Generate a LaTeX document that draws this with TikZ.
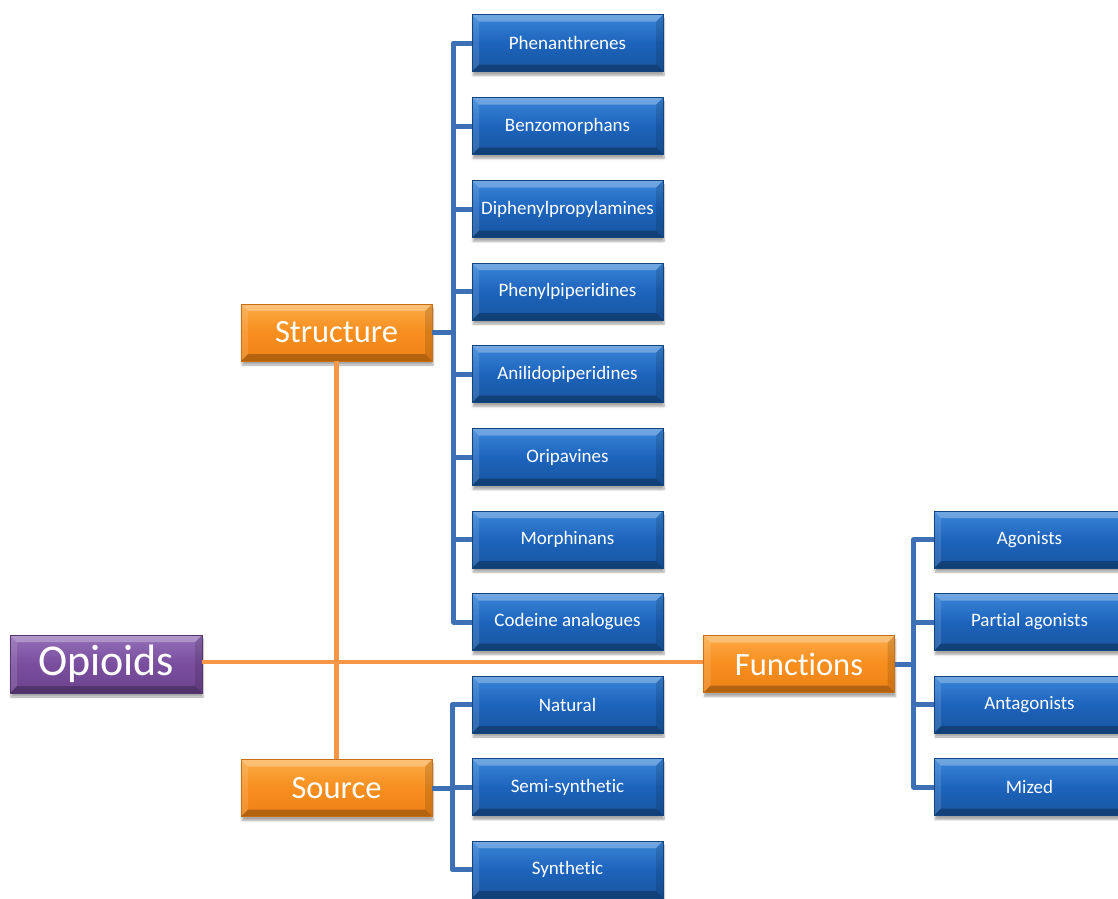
\documentclass[tikz,border=0pt]{standalone}
\usepackage{fontspec}
\setmainfont[Ligatures=NoCommon]{Carlito}
\usetikzlibrary{shadows.blur}
\definecolor{bluemid}{HTML}{1D64BD}
\definecolor{bluetop}{HTML}{3A86D8}
\definecolor{bluebot}{HTML}{18559E}
\definecolor{orgmid}{HTML}{F78E1E}
\definecolor{orgtop}{HTML}{FBAA45}
\definecolor{orgbot}{HTML}{EE8215}
\definecolor{purmid}{HTML}{7A4E9E}
\definecolor{purtop}{HTML}{9470B8}
\definecolor{purbot}{HTML}{6C438E}
\definecolor{orgline}{HTML}{F79646}
\definecolor{blueline}{HTML}{3D70B5}
\tikzset{
  bevel/.style={path picture={
    \fill[white,opacity=0.28] (path picture bounding box.north west) -- (path picture bounding box.north east) -- ([xshift=-7pt,yshift=-7pt]path picture bounding box.north east) -- ([xshift=7pt,yshift=-7pt]path picture bounding box.north west) -- cycle;
    \fill[white,opacity=0.12] (path picture bounding box.north west) -- ([xshift=7pt,yshift=-7pt]path picture bounding box.north west) -- ([xshift=7pt,yshift=7pt]path picture bounding box.south west) -- (path picture bounding box.south west) -- cycle;
    \fill[black,opacity=0.12] (path picture bounding box.north east) -- ([xshift=-7pt,yshift=-7pt]path picture bounding box.north east) -- ([xshift=-7pt,yshift=7pt]path picture bounding box.south east) -- (path picture bounding box.south east) -- cycle;
    \fill[black,opacity=0.25] (path picture bounding box.south west) -- (path picture bounding box.south east) -- ([xshift=-7pt,yshift=7pt]path picture bounding box.south east) -- ([xshift=7pt,yshift=7pt]path picture bounding box.south west) -- cycle;
  }},
  basebox/.style={rectangle, inner sep=0pt, text=white, bevel,
    blur shadow={shadow xshift=1pt, shadow yshift=-4pt, shadow blur steps=6, shadow opacity=35}},
  leaf/.style={basebox, minimum width=191pt, minimum height=57pt,
    top color=bluetop, bottom color=bluebot, middle color=bluemid,
    draw=bluebot!80!black, line width=0.6pt, font=\fontsize{19}{22}\selectfont},
  branch/.style={basebox, minimum width=191pt, minimum height=57pt,
    top color=orgtop, bottom color=orgbot, middle color=orgmid,
    draw=orgbot!85!black, line width=0.6pt, font=\fontsize{32.5}{38}\selectfont},
  rootbox/.style={basebox, minimum width=192pt, minimum height=58pt,
    top color=purtop, bottom color=purbot, middle color=purmid,
    draw=purbot!80!black, line width=0.6pt, font=\fontsize{44}{50}\selectfont},
  oline/.style={draw=orgline, line width=4.5pt},
  bline/.style={draw=blueline, line width=5pt, line join=round}
}
\begin{document}
\begin{tikzpicture}[x=1pt,y=-1pt]
\useasboundingbox (0,0) rectangle (1118,898);
\clip (0,0) rectangle (1118,898);
\node[rootbox] (opioids) at (106,664) {Opioids};
\node[branch] (structure) at (336.5,332.5) {Structure};
\node[branch] (source) at (336.5,788) {Source};
\node[branch] (functions) at (799,664) {Functions};
% leaves
\node[leaf] (s1) at (567.5,43) {Phenanthrenes};
\node[leaf] (s2) at (567.5,126) {Benzomorphans};
\node[leaf] (s3) at (567.5,209) {Diphenylpropylamines};
\node[leaf] (s4) at (567.5,291.5) {Phenylpiperidines};
\node[leaf] (s5) at (567.5,374) {Anilidopiperidines};
\node[leaf] (s6) at (567.5,457) {Oripavines};
\node[leaf] (s7) at (567.5,539.5) {Morphinans};
\node[leaf] (s8) at (567.5,622) {Codeine analogues};
\node[leaf] (o1) at (567.5,704.5) {Natural};
\node[leaf] (o2) at (567.5,787) {Semi-synthetic};
\node[leaf] (o3) at (567.5,869.5) {Synthetic};
\node[leaf] (f1) at (1029.5,539.5) {Agonists};
\node[leaf] (f2) at (1029.5,622) {Partial agonists};
\node[leaf] (f3) at (1029.5,704.5) {Antagonists};
\node[leaf] (f4) at (1029.5,787) {Mized};
% connectors
\draw[oline] (opioids.east |- 0,662) -- (functions.west |- 0,662);
\draw[oline] (structure.south) -- (source.north);
\foreach \c in {s1,s2,s3,s4,s5,s6,s7,s8}
  \draw[bline] (structure.east) -- ++(21,0) |- (\c.west);
\foreach \c in {o1,o2,o3}
  \draw[bline] (source.east) -- ++(20,0) |- (\c.west);
\foreach \c in {f1,f2,f3,f4}
  \draw[bline] (functions.east) -- ++(19,0) |- (\c.west);
\end{tikzpicture}
\end{document}
